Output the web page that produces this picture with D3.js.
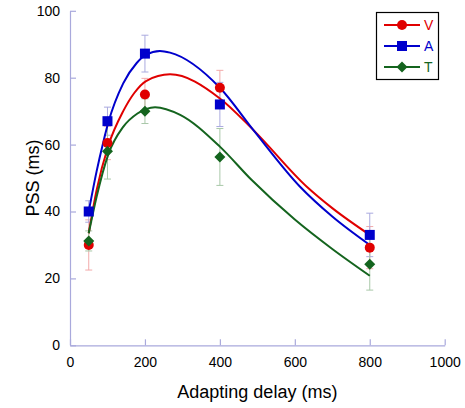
<!DOCTYPE html>
<html><head><meta charset="utf-8">
<script src="https://cdn.jsdelivr.net/npm/d3@7"></script>
<style>body{margin:0;background:#fff} text{font-family:"Liberation Sans",Arial,sans-serif}</style>
</head><body><svg id="c" width="465" height="408"></svg>
<script>
// ---- data ----
const delays = [50, 100, 200, 400, 800];
const seriesNames = ["V", "A", "T"];
const pssV = [30, 60.5, 75, 77, 29.2];
const pssA = [40, 67, 87.2, 72, 33];
const pssT = [31.2, 58, 70, 56.3, 24.2];
const errV = [7.5, 5, 4.8, 5.2, 6.3];
const errA = [3.2, 4.2, 5.5, 6.6, 6.5];
const errT = [3, 8.3, 3.7, 8.5, 7.7];
// fitted curves
const fitXV = [50, 71, 102, 142, 172, 203, 267, 400, 489, 632, 700, 800];
const fitV  = [33.5, 46.4, 59.6, 70, 75.5, 79, 81, 73.8, 64.4, 47.4, 41, 33];
const fitXA = [50, 71, 89, 102, 142, 178, 203, 240, 267, 400, 489, 614, 700, 800];
const fitA  = [40, 52, 60.8, 66.5, 78.3, 84.4, 86.9, 88, 87.5, 77, 64.4, 47.4, 38.5, 30];
const fitXT = [50, 71, 102, 142, 180, 227, 294, 400, 485, 600, 700, 800];
const fitT  = [33.5, 44.4, 57, 65.3, 69.3, 71.2, 68.9, 59.4, 49.4, 37.6, 28.8, 20.8];
const xTicks = [0, 200, 400, 600, 800, 1000];
const yTicks = [0, 20, 40, 60, 80, 100];

// ---- layout ----
const svg = d3.select("#c");
const L = 70, R = 444.7, T = 10.8, B = 345.3;
const x = d3.scaleLinear().domain([0, 1000]).range([L, R]);
const y = d3.scaleLinear().domain([0, 100]).range([B, T]);
const axisCol = "#a9a9dc";

const xAxis = svg.append("g").attr("transform", `translate(0,${B})`)
  .call(d3.axisBottom(x).tickValues(xTicks).tickFormat(d3.format("d")).tickSizeInner(-6).tickSizeOuter(0).tickPadding(12));
const yAxis = svg.append("g").attr("transform", `translate(${L},0)`)
  .call(d3.axisLeft(y).tickValues(yTicks).tickFormat(d3.format("d")).tickSizeInner(-6).tickSizeOuter(0).tickPadding(10));
[xAxis, yAxis].forEach(a => {
  a.select(".domain").attr("stroke", axisCol).attr("stroke-width", 1.2);
  a.selectAll(".tick line").attr("stroke", axisCol).attr("stroke-width", 1.2);
  a.selectAll(".tick text").attr("fill", "#000").attr("font-size", 14)
    .attr("font-family", "Liberation Sans, Arial, sans-serif");
});

svg.append("text").attr("x", x(500)).attr("y", 398).attr("text-anchor", "middle")
  .attr("font-size", 18).text("Adapting delay (ms)");
svg.append("text").attr("transform", `translate(39,${(T + B) / 2}) rotate(-90)`)
  .attr("text-anchor", "middle").attr("font-size", 18).text("PSS (ms)");

const series = [
  {name: seriesNames[0], vals: pssV, err: errV, fx: fitXV, fy: fitV, col: "#e00000", ecol: "#f2aaaa", shape: "circle"},
  {name: seriesNames[1], vals: pssA, err: errA, fx: fitXA, fy: fitA, col: "#0000cc", ecol: "#aaaadf", shape: "square"},
  {name: seriesNames[2], vals: pssT, err: errT, fx: fitXT, fy: fitT, col: "#14641e", ecol: "#a9c8a9", shape: "diamond"}
];

// error bars
series.forEach(s => {
  const g = svg.append("g").attr("stroke", s.ecol).attr("stroke-width", 1);
  delays.forEach((d, i) => {
    const cx = x(d), y1 = y(s.vals[i] - s.err[i]), y2 = y(s.vals[i] + s.err[i]);
    g.append("line").attr("x1", cx).attr("x2", cx).attr("y1", y1).attr("y2", y2);
    g.append("line").attr("x1", cx - 3.5).attr("x2", cx + 3.5).attr("y1", y1).attr("y2", y1);
    g.append("line").attr("x1", cx - 3.5).attr("x2", cx + 3.5).attr("y1", y2).attr("y2", y2);
  });
});

// curves
const line = d3.line().x(d => x(d[0])).y(d => y(d[1])).curve(d3.curveMonotoneX);
series.forEach(s => {
  svg.append("path").datum(s.fx.map((v, i) => [v, s.fy[i]]))
    .attr("d", line).attr("fill", "none").attr("stroke", s.col).attr("stroke-width", 2);
});

function marker(g, shape, cx, cy, col) {
  if (shape === "circle") g.append("circle").attr("cx", cx).attr("cy", cy).attr("r", 5).attr("fill", col);
  else if (shape === "square") g.append("rect").attr("x", cx - 5).attr("y", cy - 5).attr("width", 10).attr("height", 10).attr("fill", col);
  else g.append("path").attr("d", `M${cx},${cy - 5.5}L${cx + 5.5},${cy}L${cx},${cy + 5.5}L${cx - 5.5},${cy}Z`).attr("fill", col);
}
series.forEach(s => {
  const g = svg.append("g");
  delays.forEach((d, i) => marker(g, s.shape, x(d), y(s.vals[i]), s.col));
});

// legend
const lg = svg.append("g");
lg.append("rect").attr("x", 376.5).attr("y", 12.5).attr("width", 62).attr("height", 67)
  .attr("fill", "#fff").attr("stroke", "#000").attr("stroke-width", 1.2);
series.forEach((s, i) => {
  const ly = 25 + i * 21;
  lg.append("line").attr("x1", 384).attr("x2", 420).attr("y1", ly).attr("y2", ly)
    .attr("stroke", s.col).attr("stroke-width", 2);
  marker(lg, s.shape, 402, ly, s.col);
  lg.append("text").attr("x", 424).attr("y", ly + 5).attr("font-size", 14).attr("fill", s.col).text(s.name);
});
</script></body></html>
